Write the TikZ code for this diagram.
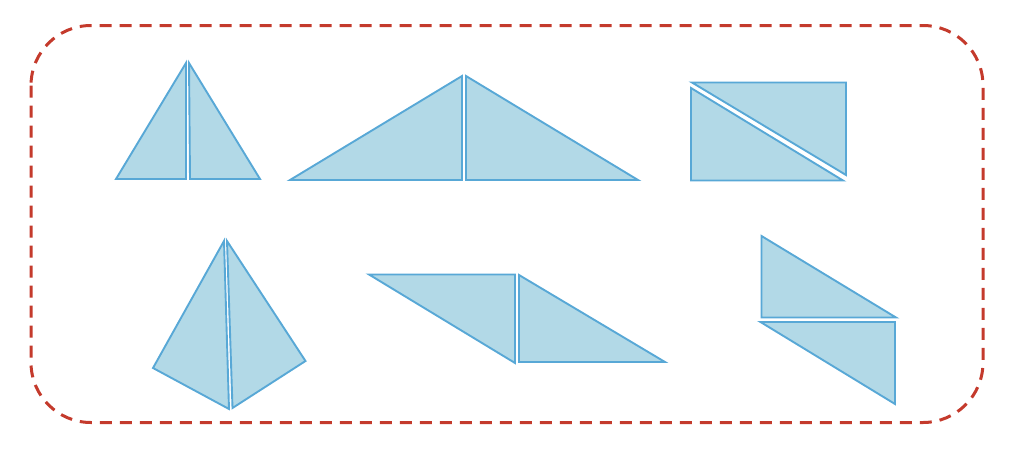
\documentclass[tikz,border=0pt]{standalone}
\begin{document}
\begin{tikzpicture}[x=1pt,y=-1pt,
  piece/.style={fill=tfill,draw=tedge,line width=1.9pt,line join=miter},
  frame/.style={draw=fred,line width=3pt,dash pattern=on 12pt off 8pt,rounded corners=60pt}]
\definecolor{tfill}{RGB}{178,217,231}
\definecolor{tedge}{RGB}{88,168,214}
\definecolor{fred}{RGB}{196,58,44}
\useasboundingbox (0,0) rectangle (1024,450);
\draw[frame] (31,25.5) rectangle (983,422.5);
% shape 1
\draw[piece] (116,179) -- (186,179) -- (186,63) -- cycle;
\draw[piece] (190,179) -- (260,179) -- (189,63) -- cycle;
% shape 2
\draw[piece] (290,180) -- (462,180) -- (462,76) -- cycle;
\draw[piece] (466,180) -- (638,180) -- (466,76) -- cycle;
% shape 3
\draw[piece] (692,82.5) -- (846,82.5) -- (846,175) -- cycle;
\draw[piece] (691,88) -- (691,180.5) -- (843,180.5) -- cycle;
% shape 4
\draw[piece] (224,241) -- (153,368) -- (229,409) -- cycle;
\draw[piece] (227,241) -- (305.5,361) -- (232.5,408) -- cycle;
% shape 5
\draw[piece] (369,274.5) -- (515,274.5) -- (515,363) -- cycle;
\draw[piece] (519,275) -- (519,362) -- (665,362) -- cycle;
% shape 6
\draw[piece] (761.5,236) -- (761.5,317.5) -- (896,317.5) -- cycle;
\draw[piece] (760.5,322) -- (895,322) -- (895,404) -- cycle;
\end{tikzpicture}
\end{document}
